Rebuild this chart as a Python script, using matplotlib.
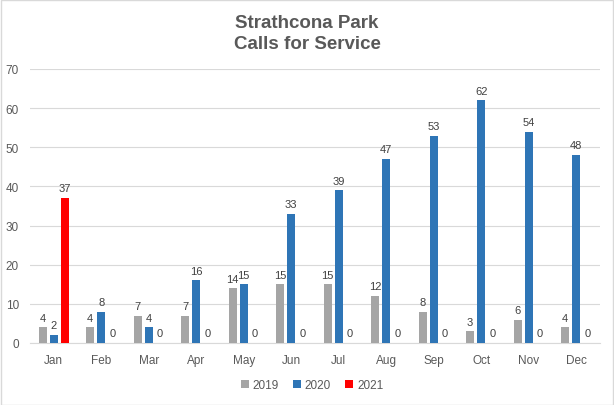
import matplotlib
matplotlib.use("Agg")
import matplotlib.pyplot as plt
import numpy as np

months = ["Jan", "Feb", "Mar", "Apr", "May", "Jun", "Jul", "Aug", "Sep", "Oct", "Nov", "Dec"]
calls_2019 = [4, 4, 7, 7, 14, 15, 15, 12, 8, 3, 6, 4]
calls_2020 = [2, 8, 4, 16, 15, 33, 39, 47, 53, 62, 54, 48]
calls_2021 = [37, 0, 0, 0, 0, 0, 0, 0, 0, 0, 0, 0]
series_names = ["2019", "2020", "2021"]

plt.rcParams['font.family'] = ['Liberation Sans', 'DejaVu Sans']
txt_color = '#595959'

fig = plt.figure(figsize=(6.14, 4.06), dpi=100)
ax = fig.add_axes([30 / 614, 1 - 344 / 406, 570 / 614, 274 / 406])

x = np.arange(len(months))
bar_w = 0.17
step = 0.235
colors = ['#A5A5A5', '#2E75B6', '#FF0000']
for i, (vals, name, col) in enumerate(zip([calls_2019, calls_2020, calls_2021], series_names, colors)):
    bars = ax.bar(x + (i - 1) * step, vals, width=bar_w, color=col, label=name, zorder=3)
    for b, v in zip(bars, vals):
        ax.text(b.get_x() + b.get_width() / 2, v + 1.2, str(v), ha='center', va='bottom',
                fontsize=8, color='#404040')

ax.set_xlim(-0.5, len(months) - 0.5)
ax.set_ylim(0, 70)
ax.set_yticks(range(0, 71, 10))
ax.set_xticks(x)
ax.set_xticklabels(months)
ax.tick_params(axis='both', length=0, labelsize=8.5, colors=txt_color)
ax.tick_params(axis='x', pad=8)
ax.tick_params(axis='y', pad=8)
ax.grid(axis='y', color='#D9D9D9', linewidth=0.8, zorder=0)
for s in ['top', 'right', 'left']:
    ax.spines[s].set_visible(False)
ax.spines['bottom'].set_color('#D9D9D9')

fig.text(0.5, 1 - 34 / 406, "Strathcona Park\nCalls for Service", ha='center', va='center',
         fontsize=13.5, fontweight='bold', color=txt_color, linespacing=1.35)

fig.legend(loc='center', bbox_to_anchor=(312 / 614, 1 - 386 / 406), ncol=3, frameon=False,
           fontsize=8.5, handlelength=0.7, handleheight=0.7, handletextpad=0.3,
           columnspacing=1.2, labelcolor=txt_color)

fig.patches.append(plt.Rectangle((0.001, 0.001), 0.997, 0.997, transform=fig.transFigure,
                                 fill=False, edgecolor='#D9D9D9', linewidth=1))

fig.savefig("out.png", dpi=100)
